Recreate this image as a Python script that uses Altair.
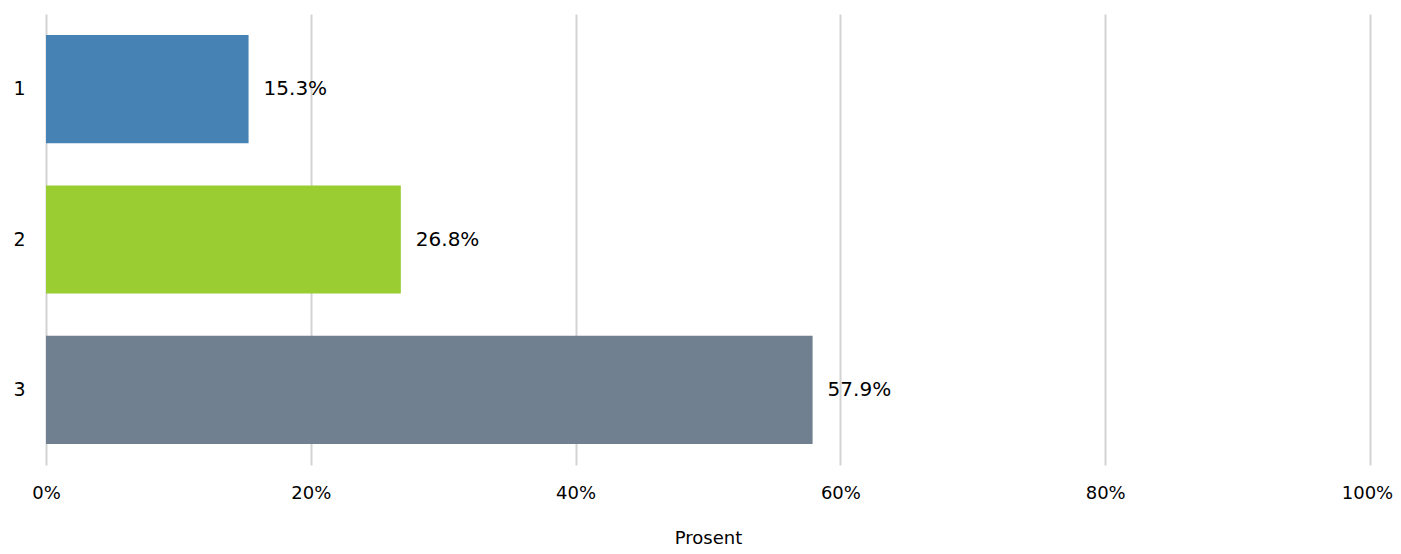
import altair as alt
import pandas as pd

categories = ["1", "2", "3"]
values = [15.3, 26.8, 57.9]
colors = ["#4682B4", "#9ACD32", "#708090"]

df = pd.DataFrame({
    "cat": categories,
    "val": [v / 100 for v in values],
    "label": [f"{v:.1f}%" for v in values],
    "color": colors,
})

FONT = "DejaVu Sans"

base = alt.Chart(df).encode(
    y=alt.Y("cat:N", sort=categories, title=None,
            scale=alt.Scale(paddingInner=0.28, paddingOuter=0.14),
            axis=alt.Axis(labelFont=FONT, labelFontSize=19, labelColor="black",
                          labelPadding=21, ticks=False, domain=False, grid=False)),
)

bars = base.mark_bar().encode(
    x=alt.X("val:Q", title="Prosent",
            scale=alt.Scale(domain=[0, 1], nice=False),
            axis=alt.Axis(format=".0%", values=[0, 0.2, 0.4, 0.6, 0.8, 1.0],
                          labelFont=FONT, labelFontSize=18, labelColor="black",
                          labelPadding=19, labelFlush=False,
                          labelOffset={"condition": {"test": "datum.value == 1", "value": -3}, "value": 0},
                          ticks=False, domain=False,
                          gridColor="#d3d3d3", gridWidth=2,
                          titleFont=FONT, titleFontSize=18, titleFontWeight="normal",
                          titleColor="black", titlePadding=27)),
    color=alt.Color("color:N", scale=None),
)

text = base.mark_text(align="left", dx=15, font=FONT, fontSize=20, color="black").encode(
    x=alt.X("val:Q"),
    text="label:N",
)

chart = (bars + text).properties(
    width=1324, height=451,
    autosize=alt.AutoSizeParams(type="none"),
    padding={"left": 38, "top": 6, "right": 23, "bottom": 81},
).configure_view(stroke=None)

chart.save("out.html", embed_options={"renderer": "svg", "actions": False})
